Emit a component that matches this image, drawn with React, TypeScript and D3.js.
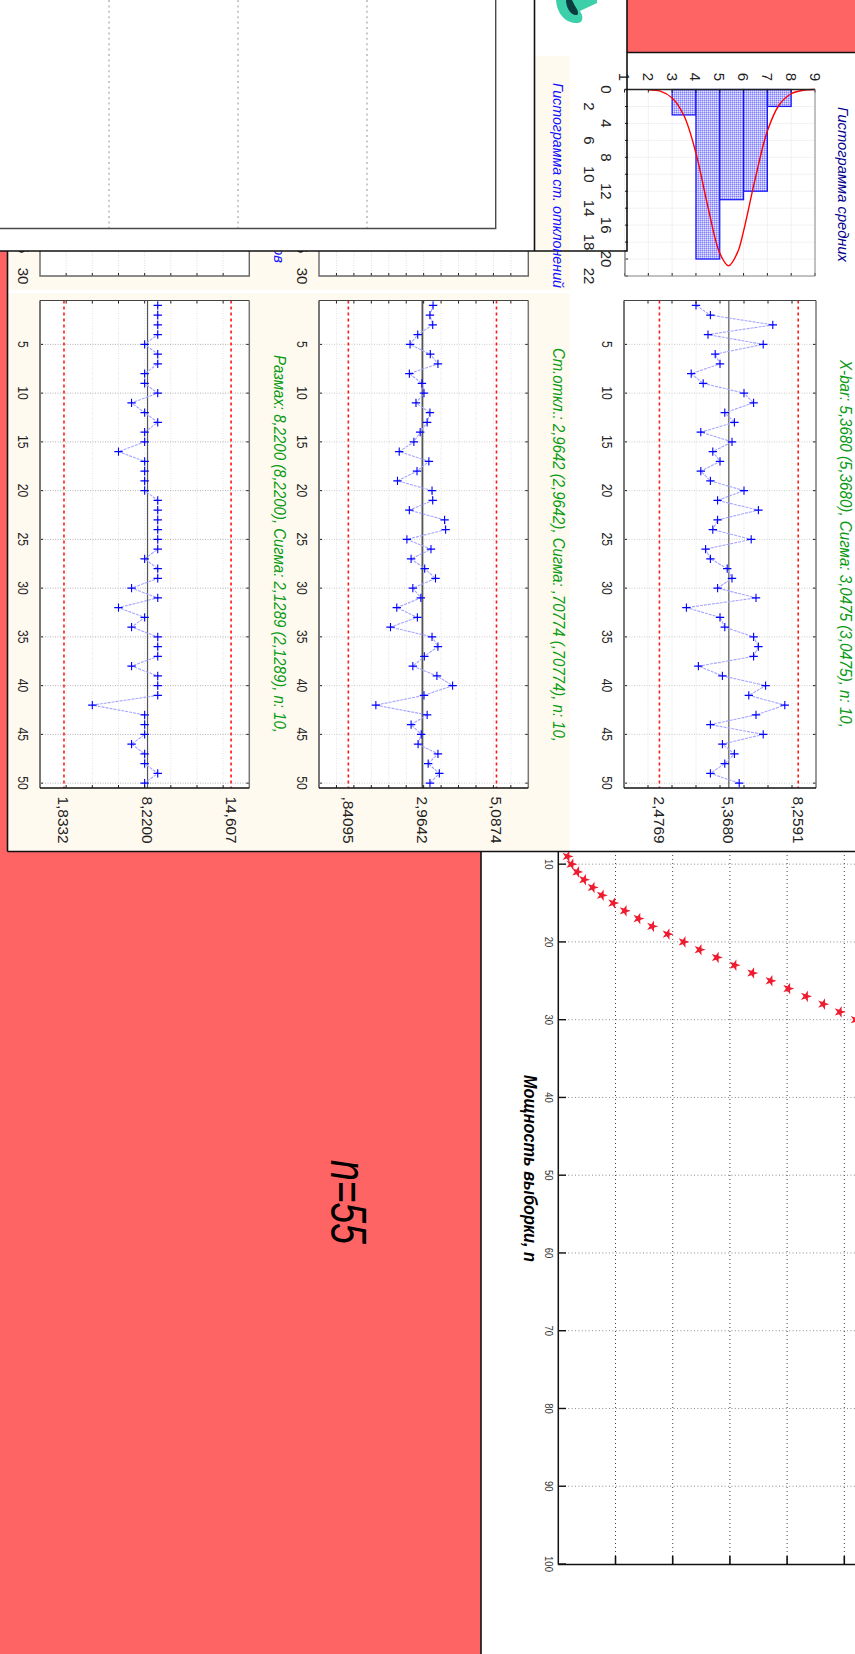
import React from 'react';
import * as d3 from 'd3';

// samples, in order 1..50
const xbarValues = [4.0, 4.6, 7.2, 4.5, 6.8, 4.8, 5.0, 3.8, 4.3, 6.0, 6.4, 5.2, 5.6, 4.2, 5.5, 4.7, 5.0, 4.2, 4.6, 6.0, 4.9, 6.6, 4.9, 4.7, 6.3, 4.4, 4.6, 5.3, 5.5, 4.9, 6.5, 3.6, 5.0, 5.2, 6.4, 6.6, 6.4, 4.1, 5.1, 6.9, 6.2, 7.7, 6.5, 4.6, 6.8, 5.1, 5.6, 5.2, 4.6, 5.8];
const sdValues = [3.27, 3.18, 3.26, 2.83, 2.61, 3.19, 3.41, 2.59, 2.95, 3.01, 2.78, 3.18, 3.1, 2.9, 2.72, 2.3, 3.15, 2.81, 2.25, 3.24, 3.26, 2.59, 3.6, 3.63, 2.52, 3.21, 2.64, 3.03, 3.34, 2.69, 2.92, 2.23, 2.82, 2.05, 3.24, 3.41, 3.02, 2.69, 3.38, 3.83, 3.01, 1.63, 3.1, 2.64, 2.93, 2.84, 3.41, 3.13, 3.45, 3.18];
const rangeValues = [9, 9, 9, 9, 8, 9, 9, 8, 8, 9, 7, 8, 9, 8, 8, 6, 8, 8, 8, 8, 9, 9, 9, 9, 9, 9, 8, 9, 9, 7, 9, 6, 8, 7, 9, 9, 9, 7, 9, 9, 9, 4, 8, 8, 8, 7, 8, 8, 9, 8];

const sampleTicks = [5, 10, 15, 20, 25, 30, 35, 40, 45, 50];

const histBins = [3, 4, 5, 6, 7];
const histCounts = [3, 20, 13, 12, 2];
const histXTicks = [1, 2, 3, 4, 5, 6, 7, 8, 9];
const histYTicks = [0, 2, 4, 6, 8, 10, 12, 14, 16, 18, 20, 22];
const curveX = [2, 2.5, 3, 3.5, 4, 4.5, 5, 5.37, 5.75, 6, 6.5, 7, 7.5, 8, 8.5, 9];
const curveY = [0.03, 0.2, 1.0, 3.1, 7.5, 13.8, 19.3, 20.8, 19.2, 16.7, 10.4, 4.9, 1.8, 0.5, 0.1, 0];

const powerN = [9, 10, 11, 12, 13, 14, 15, 16, 17, 18, 19, 20, 21, 22, 23, 24, 25, 26, 27, 28, 29, 30];
const powerEffect = [0.016, 0.023, 0.033, 0.045, 0.06, 0.076, 0.096, 0.116, 0.14, 0.164, 0.191, 0.219, 0.247, 0.277, 0.308, 0.339, 0.371, 0.402, 0.433, 0.463, 0.492, 0.52];
const powerYTicks = [10, 20, 30, 40, 50, 60, 70, 80, 90, 100];
const powerXTicks = [0.1, 0.2, 0.3, 0.4, 0.5];

const hiddenGrid = [1, 2, 3];

const RED = '#ff6464';
const CREAM = '#fffaf0';
const GREEN = '#0a9a14';
const SANS = '"Liberation Sans", Arial, sans-serif';
const NARROW = '"Liberation Sans Narrow", "Liberation Sans", sans-serif';

// everything in the slide reads top to bottom
function Rot({ x, y, children, size = 15, fill = '#222', anchor = 'middle', squeeze = 1 }: any) {
    return (
        <text
            transform={`translate(${x},${y}) rotate(90) scale(${squeeze},1)`}
            fontFamily={SANS}
            fontSize={size}
            fill={fill}
            textAnchor={anchor}
            dominantBaseline="central"
        >
            {children}
        </text>
    );
}

function Caption({ x, y0, y1, children, fill, size = 15, weight = 'normal' }: any) {
    return (
        <text
            transform={`translate(${x},${y0}) rotate(90)`}
            fontFamily={NARROW}
            fontStyle="italic"
            fontWeight={weight}
            fontSize={size}
            fill={fill}
            dominantBaseline="central"
            textLength={y1 - y0}
            lengthAdjust="spacingAndGlyphs"
        >
            {children}
        </text>
    );
}

function ControlChart({ left, right, vmin = 0, vmax, step, values, lcl, center, ucl, labels, indexX, centerWidth, gridColor }: any) {
    const xs = d3.scaleLinear().domain([vmin, vmax]).range([left, right]);
    const ys = d3.scaleLinear().domain([0.5, 50.5]).range([300.5, 788]);
    const vTicks = d3.range(vmin + step, vmax, step);
    const line = d3.line<number>().x(d => xs(d)).y((_, i) => ys(i + 1));
    return (
        <g>
            <rect x={left} y={300.5} width={right - left} height={487.5} fill="#fff" />
            {vTicks.map(t => (
                <line key={t} x1={xs(t)} x2={xs(t)} y1={300.5} y2={788} stroke="#e2e2e2" strokeDasharray="1,1.5" />
            ))}
            {sampleTicks.map(t => (
                <line key={t} x1={left} x2={right} y1={ys(t)} y2={ys(t)} stroke={gridColor} strokeDasharray="1,1.5" />
            ))}
            <line x1={xs(center)} x2={xs(center)} y1={300.5} y2={788} stroke="#555" strokeWidth={centerWidth} />
            {[lcl, ucl].map(v => (
                <line key={v} x1={xs(v)} x2={xs(v)} y1={300.5} y2={788} stroke="#ff1a1a" strokeWidth={1.6} strokeDasharray="3,3" />
            ))}
            <path d={line(values) || ''} fill="none" stroke="#a6a6ff" strokeWidth={1.1} strokeDasharray="3,1" />
            {values.map((v: number, i: number) => (
                <path
                    key={i}
                    transform={`translate(${xs(v)},${ys(i + 1)})`}
                    d="M-4.2,0H4.2M0,-4.2V4.2"
                    stroke="#0000ff"
                    strokeWidth={1.1}
                    fill="none"
                />
            ))}
            {vTicks.map(t => (
                <g key={t} stroke="#222">
                    <line x1={xs(t)} x2={xs(t)} y1={300.5} y2={303.5} />
                    <line x1={xs(t)} x2={xs(t)} y1={785} y2={788} />
                </g>
            ))}
            {sampleTicks.map(t => (
                <g key={t} stroke="#222">
                    <line x1={left} x2={left + 3} y1={ys(t)} y2={ys(t)} />
                    <line x1={right - 3} x2={right} y1={ys(t)} y2={ys(t)} />
                </g>
            ))}
            <line x1={left} x2={left} y1={300.5} y2={788} stroke="#777" strokeWidth={2} />
            <line x1={right} x2={right} y1={300.5} y2={788} stroke="#777" strokeWidth={1.5} />
            <line x1={left} x2={right} y1={300.5} y2={300.5} stroke="#444" />
            <line x1={left} x2={right} y1={788} y2={788} stroke="#111" strokeWidth={1.4} />
            {sampleTicks.map(t => (
                <Rot key={t} x={indexX} y={ys(t)} squeeze={0.82}>{t}</Rot>
            ))}
            {[lcl, center, ucl].map((v, i) => (
                <Rot key={i} x={xs(v)} y={796.5} anchor="start" size={15.4}>{labels[i]}</Rot>
            ))}
        </g>
    );
}

// bottom edge of the two histograms that the white sheet covers
function HistStub({ left, right, vmax, step, labelX }: any) {
    const xs = d3.scaleLinear().domain([0, vmax]).range([left, right]);
    const ys = d3.scaleLinear().domain([25, 30]).range([245, 276]);
    const vTicks = d3.range(step, vmax, step);
    return (
        <g>
            <rect x={left} y={240} width={right - left} height={36} fill="#fff" />
            {vTicks.map(t => (
                <g key={t}>
                    <line x1={xs(t)} x2={xs(t)} y1={240} y2={276} stroke="#ddd" strokeDasharray="1,1.5" />
                    <line x1={xs(t)} x2={xs(t)} y1={273} y2={276} stroke="#222" />
                </g>
            ))}
            <path d={`M${left},240V276H${right}V240`} fill="none" stroke="#666" strokeWidth={1.4} />
            {[25, 30].map(t => (
                <Rot key={t} x={labelX} y={ys(t)}>{t}</Rot>
            ))}
        </g>
    );
}

function MeanHistogram() {
    const xs = d3.scaleLinear().domain([1, 9]).range([624.5, 815]);
    const ys = d3.scaleLinear().domain([0, 22]).range([89.5, 276]);
    const curve = d3.line<number>()
        .x(d => xs(d))
        .y((_, i) => ys(curveY[i]))
        .curve(d3.curveCatmullRom);
    return (
        <g>
            {histXTicks.map(t => (
                <line key={t} x1={xs(t)} x2={xs(t)} y1={89.5} y2={276} stroke="#e4e4e4" strokeDasharray="1,1" />
            ))}
            {histYTicks.map(t => (
                <line key={t} x1={624.5} x2={815} y1={ys(t)} y2={ys(t)} stroke="#e4e4e4" strokeDasharray="1,1" />
            ))}
            {histBins.map((b, i) => (
                <rect
                    key={b}
                    x={xs(b)}
                    y={ys(0)}
                    width={xs(b + 1) - xs(b)}
                    height={ys(histCounts[i]) - ys(0)}
                    fill="url(#hatch)"
                    stroke="#1414ff"
                    strokeWidth={1.2}
                />
            ))}
            <path d={curve(curveX) || ''} fill="none" stroke="#ff0000" strokeWidth={1.4} />
            {histXTicks.map(t => (
                <g key={t} stroke="#222">
                    <line x1={xs(t)} x2={xs(t)} y1={89.5} y2={92.5} />
                    <line x1={xs(t)} x2={xs(t)} y1={273} y2={276} />
                </g>
            ))}
            {histYTicks.map(t => (
                <line key={t} x1={625} x2={628} y1={ys(t)} y2={ys(t)} stroke="#222" />
            ))}
            <line x1={624.5} x2={815} y1={89.5} y2={89.5} stroke="#222" strokeWidth={1.4} />
            <line x1={624.5} x2={815} y1={276} y2={276} stroke="#888" />
            <line x1={815} x2={815} y1={89.5} y2={276} stroke="#888" />
            <line x1={625} x2={625} y1={250} y2={276} stroke="#888" strokeWidth={1.5} />
            {histXTicks.map(t => (
                <Rot key={t} x={xs(t)} y={77}>{t}</Rot>
            ))}
            {histYTicks.map((t, i) => (
                <Rot key={t} x={i % 2 ? 589 : 606} y={ys(t)}>{t}</Rot>
            ))}
        </g>
    );
}

function PowerChart() {
    const xs = d3.scaleLinear().domain([0, 0.5]).range([558.3, 844.3]);
    const ys = d3.scaleLinear().domain([0, 100]).range([786.4, 1564]);
    const star = d3.symbol().type(d3.symbolStar).size(42)();
    return (
        <g clipPath="url(#belowFrame)">
            {powerYTicks.slice(0, -1).map(t => (
                <line key={t} x1={558} x2={855} y1={ys(t)} y2={ys(t)} stroke="#8a8a8a" strokeDasharray="1,2.4" />
            ))}
            {powerXTicks.map(t => (
                <line key={t} x1={xs(t)} x2={xs(t)} y1={851} y2={1564} stroke="#444" strokeDasharray="1,3" />
            ))}
            {powerEffect.map((e, i) => (
                <path
                    key={i}
                    transform={`translate(${xs(e)},${ys(powerN[i])}) rotate(90)`}
                    d={star || ''}
                    fill="#ee1c2e"
                />
            ))}
            {powerYTicks.map(t => (
                <g key={t}>
                    <line x1={558} x2={566} y1={ys(t)} y2={ys(t)} stroke="#111" strokeWidth={1.4} />
                    <Rot x={548.5} y={ys(t)} size={10} fill="#333" squeeze={0.95}>{t}</Rot>
                </g>
            ))}
            {powerXTicks.map(t => (
                <line key={t} x1={xs(t)} x2={xs(t)} y1={1556} y2={1564} stroke="#111" strokeWidth={1.6} />
            ))}
            <line x1={558.3} x2={558.3} y1={851} y2={1564.5} stroke="#111" strokeWidth={1.5} />
            <line x1={558} x2={855} y1={1564.5} y2={1564.5} stroke="#111" strokeWidth={1.5} />
        </g>
    );
}

function CoveringSheet() {
    const xs = d3.scaleLinear().domain([1, 2, 3]).range([109, 238, 367]);
    return (
        <g>
            <rect x={0} y={0} width={534} height={251} fill="#fff" />
            {hiddenGrid.map(t => (
                <line key={t} x1={xs(t)} x2={xs(t)} y1={0} y2={228} stroke="#bcbcbc" strokeWidth={1.6} strokeDasharray="2,3.4" />
            ))}
            <path d="M0,228.5H495.7V0" fill="none" stroke="#4a4a4a" strokeWidth={1.4} />
        </g>
    );
}

export default function App() {
    return (
        <svg
            width={855}
            height={1654}
            viewBox="0 0 855 1654"
            style={{ position: 'absolute', left: 0, top: 0, display: 'block', background: '#fff' }}
        >
            <defs>
                <pattern id="hatch" width={2} height={2} patternUnits="userSpaceOnUse">
                    <rect width={2} height={2} fill="#b4b4ff" />
                    <rect width={1} height={1} fill="#7f7fff" />
                    <rect x={1} y={1} width={1} height={1} fill="#e0e0ff" />
                </pattern>
                <clipPath id="belowFrame">
                    <rect x={482} y={852} width={373} height={802} />
                </clipPath>
            </defs>

            {/* slide backgrounds */}
            <rect x={627} y={0} width={228} height={52.5} fill={RED} />
            <rect x={0} y={251} width={8} height={600} fill={RED} />
            <rect x={0} y={851} width={481} height={803} fill={RED} />
            <rect x={8} y={251} width={562} height={600} fill={CREAM} />
            <rect x={535} y={56} width={35} height={195} fill={CREAM} />
            <rect x={8} y={290} width={562} height={3} fill="#fff" />

            <Caption x={279} y0={98} y1={263} fill="#1010ff">Гистограмма размахов</Caption>
            <HistStub left={40} right={249.3} vmax={16} step={2} labelX={23} />
            <HistStub left={319} right={528.3} vmax={6} step={0.5} labelX={302} />
            <CoveringSheet />

            {/* logo corner */}
            <path d="M556,0C557,14 566,24 578,23C584,22 583,16 580,11L597,3V0Z" fill="#3dcfa9" />
            <path d="M566,0C566,8 571,16 577,15C579,14 578,10 575,6L572,0Z" fill="#0b3b3f" />

            <MeanHistogram />

            <ControlChart
                left={40} right={249.3} vmax={16} step={2}
                values={rangeValues} lcl={1.8332} center={8.22} ucl={14.607}
                labels={['1,8332', '8,2200', '14,607']} indexX={22.5}
                centerWidth={1.2} gridColor="#b0b0b0"
            />
            <ControlChart
                left={319} right={528.3} vmax={6} step={0.5}
                values={sdValues} lcl={0.84095} center={2.9642} ucl={5.0874}
                labels={[',84095', '2,9642', '5,0874']} indexX={301.5}
                centerWidth={1.8} gridColor="#cccccc"
            />
            <ControlChart
                left={624} right={816} vmin={1} vmax={9} step={1}
                values={xbarValues} lcl={2.4769} center={5.368} ucl={8.2591}
                labels={['2,4769', '5,3680', '8,2591']} indexX={606.5}
                centerWidth={1.2} gridColor="#cccccc"
            />

            <PowerChart />

            {/* frames */}
            <g stroke="#111" strokeWidth={1.6} fill="none">
                <path d="M0,251H627V0" />
                <path d="M534.5,0V251" />
                <path d="M627,52.5H855" />
                <path d="M7.5,251V851.5" />
                <path d="M7.5,851.5H855" />
                <path d="M481,851.5V1654" />
            </g>

            <Caption x={558} y0={83} y1={288} fill="#1010ff">Гистограмма ст. отклонений</Caption>
            <Caption x={843} y0={107} y1={262} fill="#00008c">Гистограмма средних</Caption>
            <Caption x={845} y0={360} y1={728} fill={GREEN} size={16}>X-bar: 5,3680 (5,3680), Сигма: 3,0475 (3,0475), n: 10,</Caption>
            <Caption x={558} y0={348} y1={742} fill={GREEN} size={16}>Ст.откл.: 2,9642 (2,9642), Сигма: ,70774 (,70774), n: 10,</Caption>
            <Caption x={279} y0={355} y1={733} fill={GREEN} size={16}>Размах: 8,2200 (8,2200), Сигма: 2,1289 (2,1289), n: 10,</Caption>
            <Caption x={530} y0={1075} y1={1262} fill="#000" size={18} weight="bold">Мощность выборки, n</Caption>
            <Caption x={348} y0={1160} y1={1244} fill="#000" size={50}>n=55</Caption>
        </svg>
    );
}
